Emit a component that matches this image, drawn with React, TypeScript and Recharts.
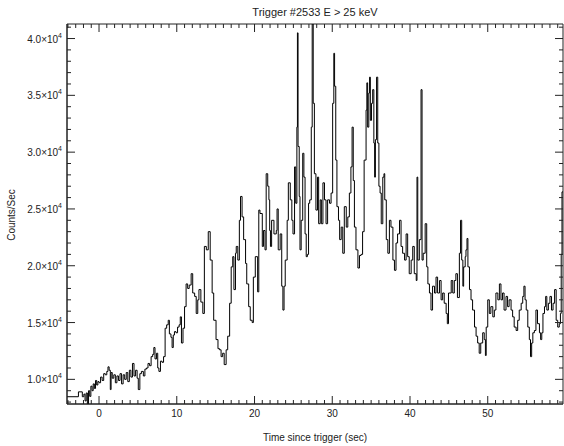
import { LineChart, Line, XAxis, YAxis, ReferenceArea } from 'recharts';

const TITLE = 'Trigger #2533 E > 25 keV';
const X_TITLE = 'Time since trigger (sec)';
const Y_TITLE = 'Counts/Sec';

// [time (s), counts/sec]
const PRE_BURST: [number, number][] = [
  [-4.12, 8470], [-2.65, 8900], [-2.15, 8470], [-1.95, 8700], [-1.8, 8100], [-1.65, 8800],
  [-1.5, 7700], [-1.35, 9000], [-1.2, 8500], [-1.05, 9400], [-0.9, 9000], [-0.75, 9600],
  [-0.6, 9200], [-0.45, 9900], [-0.3, 9500], [-0.15, 9800], [0, 9700], [0.2, 10200],
  [0.4, 9900], [0.6, 10500], [0.8, 10400], [1.0, 10700], [1.15, 11100], [1.3, 10800],
  [1.45, 9100], [1.55, 10600], [1.7, 10100], [1.9, 10400], [2.1, 9700], [2.3, 10300],
  [2.5, 9900], [2.7, 10500], [2.9, 9600], [3.1, 10400], [3.3, 10000], [3.5, 10600],
  [3.7, 9800], [3.9, 10800], [4.1, 10200], [4.3, 11400], [4.5, 10300], [4.7, 10800],
  [4.9, 10100], [5.05, 9100], [5.25, 10500], [5.45, 10700], [5.7, 10300], [5.9, 10900],
  [6.1, 11000], [6.3, 11400], [6.5, 11200], [6.7, 12000], [6.9, 12200], [7.05, 12800],
  [7.2, 11800], [7.4, 12300], [7.55, 11000], [7.7, 10700], [7.9, 11600], [8.1, 11500],
  [8.3, 12000],
];

const RISE: [number, number][] = [
  [8.5, 14500], [8.7, 14800], [8.9, 15200], [9.05, 14000], [9.25, 13700], [9.4, 12800],
  [9.55, 13900], [9.7, 14200], [9.9, 14100], [10.1, 14600], [10.3, 14800], [10.45, 15500],
  [10.6, 13200], [10.8, 14500], [11.0, 16400], [11.2, 18400], [11.4, 18000], [11.6, 18300],
  [11.85, 19300], [12.05, 17600], [12.3, 17300], [12.5, 15800], [12.7, 17000], [12.85, 17900],
  [13.1, 16800], [13.35, 15800], [13.55, 21700], [13.8, 21400], [14.05, 23000], [14.3, 20500],
  [14.55, 17600], [14.75, 15200], [15.05, 13500], [15.3, 12700], [15.5, 12600], [15.7, 12000],
  [15.9, 12300], [16.1, 11300], [16.35, 12600], [16.55, 13800], [16.8, 16700], [17.0, 19900],
  [17.2, 20800], [17.35, 17900], [17.55, 21100], [17.65, 21700], [17.85, 20500], [18.05, 24000],
  [18.2, 26100], [18.4, 24300], [18.6, 22300], [18.85, 20200], [19.0, 18400], [19.25, 16400],
  [19.45, 15200], [19.7, 15000], [19.85, 19000], [20.1, 20800], [20.4, 17700], [20.55, 24900],
  [20.7, 24600], [21.0, 21700], [21.15, 23100], [21.35, 21400],
];

const MAIN_PEAKS: [number, number][] = [
  [21.5, 28100], [21.7, 27000], [21.85, 25800], [21.95, 23100], [22.05, 21700], [22.2, 24000],
  [22.5, 22800], [22.8, 23100], [22.9, 25000], [23.05, 21400], [23.3, 22800], [23.5, 18200],
  [23.65, 16100], [23.8, 18200], [23.95, 20500], [24.2, 24000], [24.35, 27300], [24.6, 25800],
  [24.8, 24000], [24.95, 22800], [25.15, 28700], [25.3, 25500], [25.45, 32200], [25.52, 40500],
  [25.6, 30500], [25.75, 26100], [25.85, 21400], [26.0, 24000], [26.2, 29900], [26.35, 27800],
  [26.5, 22800], [26.65, 20800], [26.8, 21000], [26.95, 25500], [27.1, 25800], [27.3, 32200],
  [27.42, 42000], [27.55, 34300], [27.7, 28100], [27.9, 24900], [28.1, 27800], [28.25, 23700],
  [28.45, 25800], [28.6, 23700], [28.8, 27300], [29.0, 25800], [29.2, 23700], [29.4, 25800],
  [29.65, 25500], [29.85, 26400], [30.05, 34300], [30.2, 38700], [30.3, 35800], [30.45, 29300],
  [30.6, 25200], [30.8, 24000], [30.95, 22300], [31.15, 23400], [31.35, 21100], [31.55, 25200],
  [31.8, 23400], [32.0, 24300], [32.2, 26400], [32.4, 28700], [32.55, 32200], [32.7, 27500],
  [32.85, 23400], [33.05, 21400], [33.3, 19800], [33.5, 20900], [33.7, 21000], [33.9, 23000],
  [34.1, 29300], [34.35, 33700], [34.45, 36100], [34.55, 32200], [34.7, 35200], [34.8, 36600],
  [34.9, 32800], [35.05, 34300], [35.2, 35500], [35.35, 30800], [35.45, 27800], [35.55, 31100],
  [35.7, 36600], [35.85, 30800], [36.0, 27000], [36.15, 26400], [36.3, 23700], [36.5, 27800],
  [36.65, 28100], [36.75, 25800], [36.95, 22300], [37.15, 21100],
];

const DECAY: [number, number][] = [
  [37.35, 24000], [37.55, 23400], [37.8, 20500], [38.0, 19600], [38.2, 22000], [38.4, 22800],
  [38.65, 24000], [38.85, 21700], [39.05, 21100], [39.3, 20500], [39.5, 22800], [39.7, 20800],
  [39.9, 19300], [40.15, 20500], [40.35, 21700], [40.55, 19300], [40.8, 18700], [40.9, 27800],
  [41.0, 20500], [41.2, 22300], [41.42, 35500], [41.55, 20500], [41.7, 21100], [41.95, 23700],
  [42.15, 19900], [42.3, 18400], [42.5, 17600], [42.7, 16100], [42.9, 18200], [43.15, 17600],
  [43.35, 19000], [43.55, 17600], [43.8, 18700], [44.0, 17000], [44.2, 17600], [44.4, 16700],
  [44.65, 15800], [44.8, 14900], [44.95, 17600], [45.3, 18700], [45.5, 17600], [45.7, 18700],
  [45.9, 19300], [46.1, 17200], [46.35, 21100], [46.5, 24000], [46.65, 20500], [46.8, 18200],
  [46.9, 19900], [47.1, 20800], [47.2, 21400], [47.33, 22400], [47.45, 19900],
];

const TAIL: [number, number][] = [
  [47.65, 17900], [47.85, 17000], [48.05, 16100], [48.3, 14600], [48.5, 13800], [48.7, 13200],
  [48.9, 12300], [49.1, 13200], [49.35, 14100], [49.55, 13500], [49.7, 12100], [49.8, 14600],
  [50.0, 17000], [50.2, 15800], [50.4, 16400], [50.65, 15500], [50.85, 16100], [51.05, 17600],
  [51.3, 17000], [51.5, 18400], [51.7, 17000], [51.9, 17600], [52.1, 16100], [52.35, 17300],
  [52.55, 16400], [52.75, 17000], [53.0, 16100], [53.2, 15500], [53.4, 14600], [53.65, 14300],
  [53.85, 15200], [54.05, 16100], [54.3, 16700], [54.5, 17300], [54.65, 18200], [54.8, 17000],
  [54.95, 16100], [55.15, 14600], [55.35, 13500], [55.5, 12000], [55.65, 13200], [55.8, 14100],
  [56.0, 14300], [56.2, 16100], [56.4, 14900], [56.65, 14100], [56.8, 13500], [56.95, 14100],
  [57.1, 15800], [57.3, 16400], [57.45, 17300], [57.6, 16100], [57.8, 16700], [58.0, 17300],
  [58.2, 16100], [58.4, 16700], [58.6, 17900], [58.8, 15200], [59.0, 14600], [59.2, 14900],
  [59.35, 15800], [59.45, 21000], [59.55, 26500], [59.68, 26500],
];

const X_DOMAIN: [number, number] = [-4.12, 59.68];
const Y_DOMAIN: [number, number] = [7830, 41280];
const X_MAJOR = [0, 10, 20, 30, 40, 50];
const Y_MAJOR = [10000, 15000, 20000, 25000, 30000, 35000, 40000];
const X_TICKS = Array.from({ length: 64 }, (_, i) => i - 4);
const Y_TICKS = Array.from({ length: 34 }, (_, i) => 8000 + i * 1000);

const W = 564;
const H = 446;
const LEFT = 67;
const RIGHT = 563;
const TOP = 24;
const BOTTOM = 404;
const FONT = '"Liberation Sans", Arial, sans-serif';
const INK = '#222';

const data = [...PRE_BURST, ...RISE, ...MAIN_PEAKS, ...DECAY, ...TAIL].map(([t, c]) => ({ t, c }));

function XTick(props: any) {
  const { x, payload } = props;
  const major = X_MAJOR.includes(payload.value);
  const len = major ? 8 : 4;
  return (
    <g>
      <line x1={x} x2={x} y1={BOTTOM} y2={BOTTOM - len} stroke={INK} />
      <line x1={x} x2={x} y1={TOP} y2={TOP + len} stroke={INK} />
      {major && (
        <text x={x} y={BOTTOM + 13} textAnchor="middle" fontSize={10} fontFamily={FONT} fill={INK}>
          {payload.value}
        </text>
      )}
    </g>
  );
}

function YTick(props: any) {
  const { y, payload } = props;
  const major = Y_MAJOR.includes(payload.value);
  const len = major ? 8 : 4;
  return (
    <g>
      <line x1={LEFT} x2={LEFT + len} y1={y} y2={y} stroke={INK} />
      <line x1={RIGHT} x2={RIGHT - len} y1={y} y2={y} stroke={INK} />
      {major && (
        <text x={LEFT - 5} y={y + 4} textAnchor="end" fontSize={10} fontFamily={FONT} fill={INK}>
          <tspan>{(payload.value / 10000).toFixed(1)}×10</tspan>
          <tspan dy={-5} fontSize={7}>4</tspan>
        </text>
      )}
    </g>
  );
}

export default function App() {
  return (
    <div style={{ position: 'absolute', left: 0, top: 0, width: W, height: H, background: '#fff' }}>
      <LineChart width={W} height={H} data={data} margin={{ top: TOP, right: W - RIGHT, bottom: 0, left: 0 }}>
        <XAxis
          dataKey="t"
          type="number"
          domain={X_DOMAIN}
          ticks={X_TICKS}
          allowDataOverflow
          interval={0}
          height={H - BOTTOM}
          tickSize={0}
          tickMargin={0}
          tickLine={false}
          axisLine={{ stroke: INK }}
          tick={<XTick />}
        />
        <YAxis
          type="number"
          domain={Y_DOMAIN}
          ticks={Y_TICKS}
          allowDataOverflow
          interval={0}
          width={LEFT}
          tickSize={0}
          tickMargin={0}
          tickLine={false}
          axisLine={{ stroke: INK }}
          tick={<YTick />}
        />
        <ReferenceArea x1={X_DOMAIN[0]} x2={X_DOMAIN[1]} y1={Y_DOMAIN[0]} y2={Y_DOMAIN[1]} fill="none" stroke={INK} />
        <Line
          dataKey="c"
          type="stepAfter"
          stroke="#000"
          strokeWidth={1}
          dot={false}
          isAnimationActive={false}
        />
        <text x={315} y={16} textAnchor="middle" fontSize={11} fontFamily={FONT} fill={INK}>
          {TITLE}
        </text>
        <text x={315} y={441} textAnchor="middle" fontSize={10} fontFamily={FONT} fill={INK}>
          {X_TITLE}
        </text>
        <text x={15} y={215} textAnchor="middle" fontSize={10} fontFamily={FONT} fill={INK} transform="rotate(-90 15 215)">
          {Y_TITLE}
        </text>
      </LineChart>
    </div>
  );
}
